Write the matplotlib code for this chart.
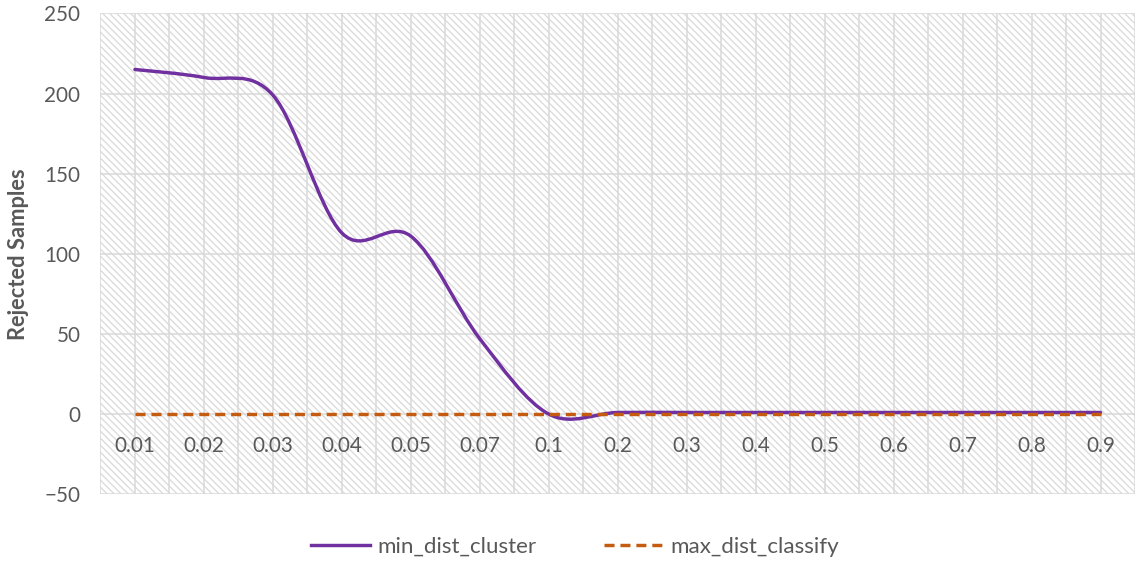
import matplotlib
matplotlib.use("Agg")
import matplotlib.pyplot as plt
from matplotlib.path import Path
from matplotlib.patches import PathPatch
from matplotlib.lines import Line2D
from matplotlib.collections import LineCollection
from matplotlib.transforms import Affine2D
import numpy as np

# ---- data ----
thresholds = ['0.01', '0.02', '0.03', '0.04', '0.05', '0.07', '0.1',
              '0.2', '0.3', '0.4', '0.5', '0.6', '0.7', '0.8', '0.9']
min_dist_cluster = [215, 210, 199, 113, 111, 47, 0, 1, 1, 1, 1, 1, 1, 1, 1]
max_dist_classify = [0, 0, 0, 0, 0, 0, 0, 0, 0, 0, 0, 0, 0, 0, 0]
y_ticks = [-50, 0, 50, 100, 150, 200, 250]

PURPLE = '#7030A0'
ORANGE = '#C55A11'
GRID = '#D9D9D9'
HATCH = '#DADADA'
TEXT = '#595959'

DPI = 85
plt.rcParams['font.family'] = ['Lato', 'DejaVu Sans']
plt.rcParams['lines.scale_dashes'] = False

fig = plt.figure(figsize=(1135 / DPI, 562 / DPI), dpi=DPI)
ax = fig.add_axes([0.0885, 0.1206, 0.9115, 0.8556])


def smooth_path(xs, ys):
    """Bezier path through the points with Catmull-Rom style control points."""
    pts = np.column_stack([xs, ys]).astype(float)
    n = len(pts)
    verts = [pts[0]]
    codes = [Path.MOVETO]
    for i in range(n - 1):
        p0 = pts[max(i - 1, 0)]
        p1 = pts[i]
        p2 = pts[i + 1]
        p3 = pts[min(i + 2, n - 1)]
        c1 = p1 + (p2 - p0) / 6.0
        c2 = p2 - (p3 - p1) / 6.0
        verts += [c1, c2, p2]
        codes += [Path.CURVE4] * 3
    return Path(verts, codes)


x = np.arange(len(thresholds))

# diagonal stripe pattern filling the plot area (pixel space, 7 px pitch)
bb = ax.bbox
W, H = bb.width, bb.height
step = 7.0
offsets = np.arange(0, W + H + step, step)
segs = [[(c - H - 5, H + 5), (c + 5, -5)] for c in offsets]
stripes = LineCollection(segs, colors=HATCH, linewidths=1.1,
                         transform=Affine2D().translate(bb.x0, bb.y0),
                         zorder=0.5)
ax.add_collection(stripes, autolim=False)
ax.set_facecolor('white')

# grid lines
for gx in np.arange(-0.5, len(thresholds), 0.5):
    ax.axvline(gx, color=GRID, lw=1.3, zorder=1)
for gy in y_ticks:
    ax.axhline(gy, color=GRID, lw=1.3, zorder=1)

# series
ax.add_patch(PathPatch(smooth_path(x, min_dist_cluster), facecolor='none',
                       edgecolor=PURPLE, lw=2.9, capstyle='round', zorder=3))
ax.plot(x, max_dist_classify, color=ORANGE, lw=2.9, dashes=(8.5, 5.0),
        dash_capstyle='butt', zorder=4)

ax.set_xlim(-0.5, len(thresholds) - 0.5)
ax.set_ylim(-50, 250)

for s in ax.spines.values():
    s.set_visible(False)
ax.spines['bottom'].set_position(('data', 0))

ax.set_xticks(x)
ax.set_xticklabels(thresholds)
ax.set_yticks(y_ticks)
ax.tick_params(axis='both', length=0, labelsize=17.5, labelcolor=TEXT)
ax.tick_params(axis='x', pad=18.5)
ax.tick_params(axis='y', pad=17)

ax.set_ylabel('Rejected Samples', fontsize=18.5, fontweight='bold',
              color=TEXT)
ax.yaxis.set_label_coords(-0.069, 0.5)

handles = [
    Line2D([], [], color=PURPLE, lw=2.9),
    Line2D([], [], color=ORANGE, lw=2.9, dashes=(8.5, 5.0)),
]
fig.legend(handles, ['min_dist_cluster', 'max_dist_classify'],
           loc='center', bbox_to_anchor=(0.5066, 1 - 547 / 562), ncol=2,
           frameon=False, fontsize=19, labelcolor=TEXT, handlelength=2.6,
           handletextpad=0.35, columnspacing=3.0)

fig.savefig('out.png', dpi=DPI)
